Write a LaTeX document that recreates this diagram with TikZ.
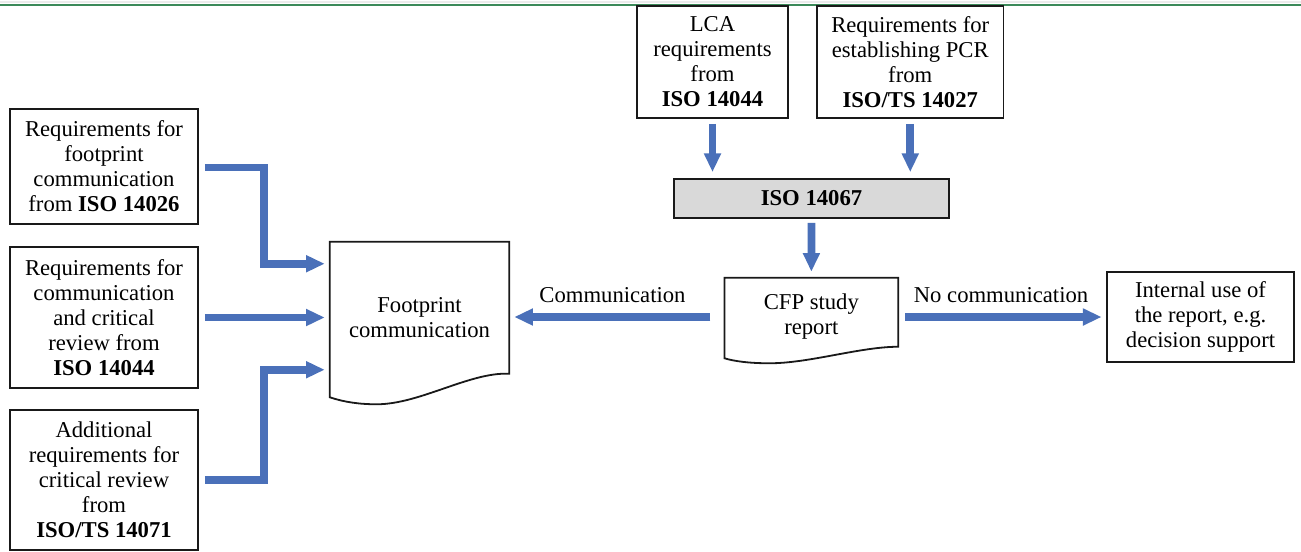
\documentclass[tikz,border=0pt]{standalone}
\usepackage{fontspec}
\setmainfont{Liberation Serif}
\usetikzlibrary{arrows.meta,calc}
\definecolor{flowblue}{HTML}{4A70B9}
\definecolor{topgreen}{HTML}{3C8A5A}
\definecolor{isogray}{HTML}{D9D9D9}
\begin{document}
\begin{tikzpicture}[x=0.75pt,y=-0.75pt,
  every node/.style={font=\fontsize{17}{18.75}\selectfont, align=center, inner sep=0pt},
  reqbox/.style={draw=black!90, line width=1.35pt, fill=white},
  docshape/.style={draw=black!90, line width=1.35pt, line join=miter},
  flow/.style={draw=flowblue, line width=5.8pt, line cap=butt, line join=miter,
    -{Triangle[length=14pt,width=12pt]}},
]
\useasboundingbox (0,0) rectangle (1301,551);
% top rule
\draw[black!8, line width=0.8pt] (0,2) -- (1301,2);
\draw[topgreen, line width=2pt] (0,5) -- (1301,5);

% left requirement boxes
\node[reqbox, minimum width=141pt, minimum height=86.25pt] (A) at (104,166.5)
  {Requirements for\\ footprint\\ communication\\ from \textbf{ISO 14026}};
\node[reqbox, minimum width=141pt, minimum height=105.75pt] (B) at (104,317.5)
  {Requirements for\\ communication\\ and critical\\ review from\\ \textbf{ISO 14044}};
\node[reqbox, minimum width=141pt, minimum height=105pt] (C) at (104,480)
  {Additional\\ requirements for\\ critical review\\ from\\ \textbf{ISO/TS 14071}};

% top boxes
\node[reqbox, minimum width=113.25pt, minimum height=84pt] (lca) at (712.5,62)
  {LCA\\ requirements\\ from\\ \textbf{ISO 14044}};
\node[reqbox, minimum width=139.9pt, minimum height=84pt] (pcr) at (910.25,62)
  {Requirements for\\ establishing PCR\\ from\\ \textbf{ISO/TS 14027}};
\node[reqbox, fill=isogray, minimum width=206.25pt, minimum height=29.25pt] (iso) at (811.5,198.5)
  {\textbf{ISO 14067}};

% internal use box
\node[reqbox, minimum width=140.25pt, minimum height=67.5pt] (int) at (1200.5,317)
  {Internal use of\\ the report, e.g.\\ decision support};

% document shapes
\node[minimum width=134.25pt, minimum height=116.25pt] (fp) at (419.5,319.5) {};
\node at (419.5,318) {Footprint\\ communication};
\draw[docshape] (fp.north west) -- (fp.north east) -- ($(fp.north east)+(0,132)$)
  .. controls ($(fp.north east)+(-39,130)$) and ($(fp.south west)+(90,7)$) .. ($(fp.south west)+(47,7)$)
  .. controls ($(fp.south west)+(30,7)$) and ($(fp.south west)+(15,5)$) .. (fp.south west) -- cycle;

\node[minimum width=130pt, minimum height=60pt] (cfp) at (811.35,318) {};
\node at (811.35,317) {CFP study\\ report};
\draw[docshape] (cfp.north west) -- (cfp.north east) -- ($(cfp.north east)+(0,69)$)
  .. controls ($(cfp.north east)+(-38,69)$) and ($(cfp.south west)+(85,5)$) .. ($(cfp.south west)+(45,5)$)
  .. controls ($(cfp.south west)+(25,5)$) and ($(cfp.south west)+(10,3)$) .. (cfp.south west) -- cycle;

% connectors
\draw[flow] ($(A.east)+(6,1)$) -- ++(59,0) |- ($(fp.north west)+(-5,22)$);
\draw[flow] ($(B.east)+(6,0)$) -- ($(B.east -| fp.west)+(-5,0)$);
\draw[flow] ($(C.east)+(6,0)$) -- ++(59,0) |- ($(fp.north west)+(-5,128)$);
\draw[flow] ($(lca.south)+(0,5)$) -- ($(lca.south |- iso.north)+(0,-6)$);
\draw[flow] ($(pcr.south)+(0,5)$) -- ($(pcr.south |- iso.north)+(0,-6)$);
\draw[flow] ($(iso.south)+(0,4)$) -- ($(cfp.north)+(0,-6)$);
\draw[flow] ($(cfp.west)+(-14,-1)$) -- ($(cfp.west -| fp.east)+(5,-1)$);
\draw[flow] ($(cfp.east)+(7,-1)$) -- ($(cfp.east -| int.west)+(-4.5,-1)$);

% labels
\node (lcomm) at (612.5,295) {Communication};
\node (lnocomm) at (1001,295) {No communication};
\end{tikzpicture}
\end{document}
